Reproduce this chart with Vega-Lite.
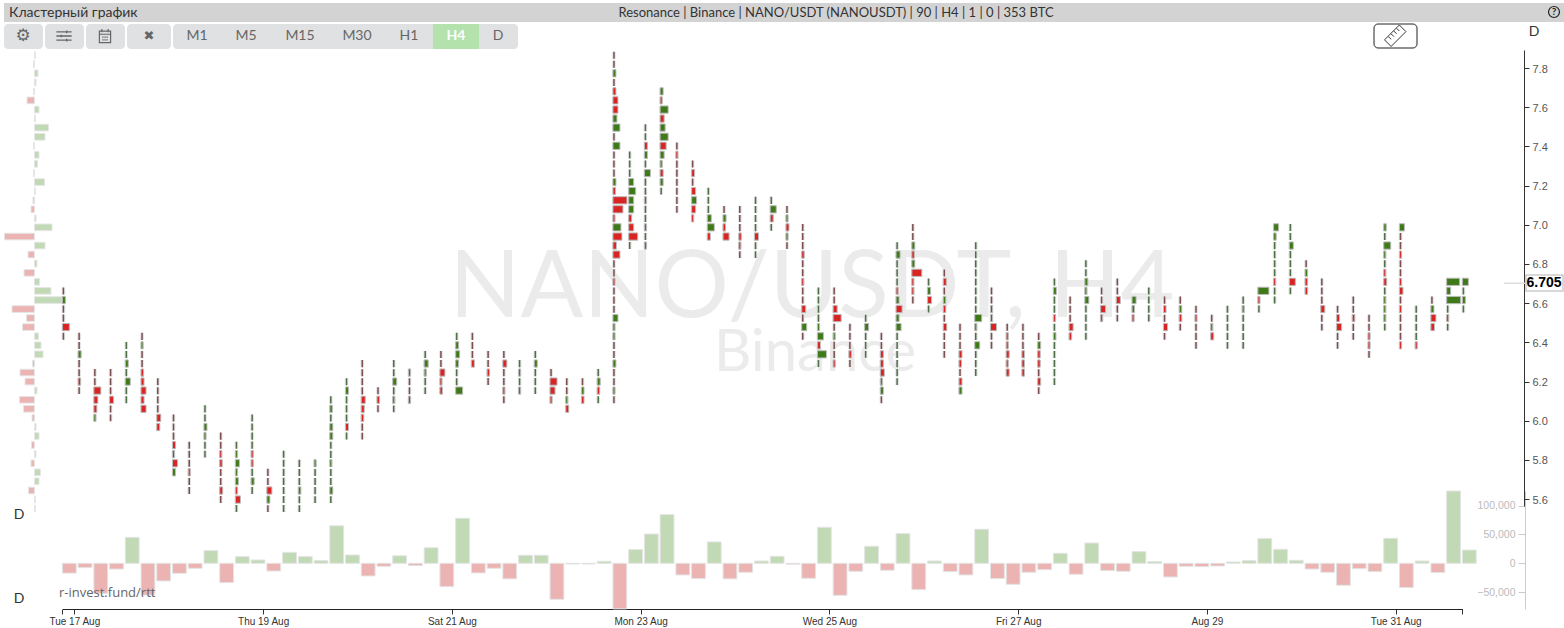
{"$schema":"https://vega.github.io/schema/vega-lite/v6.json","width":1564,"height":609,"padding":{"left":0,"top":0,"right":0,"bottom":19},"autosize":{"type":"none"},"background":"white","config":{"view":{"stroke":null}},"resolve":{"scale":{"x":"independent","y":"independent"}},"data":{"values":[{"ui":1}]},
"datasets":{
"candles":[{"i":0,"hi":6.663,"lo":6.431,"delta":-17000},{"i":1,"hi":6.431,"lo":6.154,"delta":-7500},{"i":2,"hi":6.246,"lo":6.015,"delta":-52000},{"i":3,"hi":6.246,"lo":6.015,"delta":-10000},{"i":4,"hi":6.385,"lo":6.107,"delta":45000},{"i":5,"hi":6.431,"lo":6.061,"delta":-55000},{"i":6,"hi":6.2,"lo":5.968,"delta":-30600},{"i":7,"hi":6.015,"lo":5.737,"delta":-17300},{"i":8,"hi":5.876,"lo":5.644,"delta":-8700},{"i":9,"hi":6.061,"lo":5.83,"delta":22000},{"i":10,"hi":5.922,"lo":5.598,"delta":-33500},{"i":11,"hi":5.876,"lo":5.552,"delta":11500},{"i":12,"hi":6.015,"lo":5.644,"delta":5800},{"i":13,"hi":5.737,"lo":5.552,"delta":-13300},{"i":14,"hi":5.83,"lo":5.552,"delta":19000},{"i":15,"hi":5.783,"lo":5.552,"delta":11500},{"i":16,"hi":5.783,"lo":5.598,"delta":4600},{"i":17,"hi":6.107,"lo":5.598,"delta":65000},{"i":18,"hi":6.2,"lo":5.922,"delta":14400},{"i":19,"hi":6.292,"lo":5.922,"delta":-22000},{"i":20,"hi":6.154,"lo":6.061,"delta":-5200},{"i":21,"hi":6.292,"lo":6.061,"delta":13000},{"i":22,"hi":6.246,"lo":6.107,"delta":-4000},{"i":23,"hi":6.339,"lo":6.154,"delta":27000},{"i":24,"hi":6.339,"lo":6.154,"delta":-40500},{"i":25,"hi":6.431,"lo":6.154,"delta":78000},{"i":26,"hi":6.431,"lo":6.292,"delta":-16700},{"i":27,"hi":6.339,"lo":6.2,"delta":-8700},{"i":28,"hi":6.339,"lo":6.107,"delta":-27000},{"i":29,"hi":6.292,"lo":6.154,"delta":13900},{"i":30,"hi":6.339,"lo":6.154,"delta":13900},{"i":31,"hi":6.246,"lo":6.107,"delta":-62400},{"i":32,"hi":6.2,"lo":6.061,"delta":-1200},{"i":33,"hi":6.2,"lo":6.107,"delta":-1200},{"i":34,"hi":6.246,"lo":6.107,"delta":3500},{"i":35,"hi":7.866,"lo":6.107,"delta":-79000},{"i":36,"hi":7.357,"lo":6.894,"delta":23700},{"i":37,"hi":7.496,"lo":6.894,"delta":50800},{"i":38,"hi":7.681,"lo":7.172,"delta":84300},{"i":39,"hi":7.403,"lo":7.079,"delta":-20200},{"i":40,"hi":7.311,"lo":7.033,"delta":-26500},{"i":41,"hi":7.172,"lo":6.94,"delta":37000},{"i":42,"hi":7.079,"lo":6.94,"delta":-27000},{"i":43,"hi":7.079,"lo":6.848,"delta":-15600},{"i":44,"hi":7.125,"lo":6.848,"delta":4000},{"i":45,"hi":7.125,"lo":6.987,"delta":12100},{"i":46,"hi":7.079,"lo":6.894,"delta":-1700},{"i":47,"hi":6.987,"lo":6.431,"delta":-26000},{"i":48,"hi":6.663,"lo":6.292,"delta":62400},{"i":49,"hi":6.663,"lo":6.292,"delta":-55500},{"i":50,"hi":6.478,"lo":6.292,"delta":-13900},{"i":51,"hi":6.524,"lo":6.339,"delta":29500},{"i":52,"hi":6.431,"lo":6.107,"delta":-12100},{"i":53,"hi":6.894,"lo":6.2,"delta":51400},{"i":54,"hi":6.987,"lo":6.616,"delta":-45600},{"i":55,"hi":6.709,"lo":6.57,"delta":4000},{"i":56,"hi":6.755,"lo":6.339,"delta":-14400},{"i":57,"hi":6.478,"lo":6.154,"delta":-20200},{"i":58,"hi":6.894,"lo":6.246,"delta":59000},{"i":59,"hi":6.663,"lo":6.385,"delta":-26500},{"i":60,"hi":6.478,"lo":6.246,"delta":-36400},{"i":61,"hi":6.478,"lo":6.246,"delta":-15600},{"i":62,"hi":6.431,"lo":6.154,"delta":-11000},{"i":63,"hi":6.709,"lo":6.2,"delta":17300},{"i":64,"hi":6.616,"lo":6.431,"delta":-19000},{"i":65,"hi":6.802,"lo":6.431,"delta":35200},{"i":66,"hi":6.663,"lo":6.524,"delta":-12700},{"i":67,"hi":6.709,"lo":6.524,"delta":-13900},{"i":68,"hi":6.616,"lo":6.524,"delta":20200},{"i":69,"hi":6.663,"lo":6.524,"delta":2900},{"i":70,"hi":6.616,"lo":6.431,"delta":-23700},{"i":71,"hi":6.616,"lo":6.478,"delta":-5200},{"i":72,"hi":6.57,"lo":6.385,"delta":-5800},{"i":73,"hi":6.524,"lo":6.431,"delta":-4600},{"i":74,"hi":6.57,"lo":6.385,"delta":2300},{"i":75,"hi":6.616,"lo":6.385,"delta":4600},{"i":76,"hi":6.663,"lo":6.57,"delta":42800},{"i":77,"hi":6.987,"lo":6.616,"delta":24300},{"i":78,"hi":6.987,"lo":6.663,"delta":5200},{"i":79,"hi":6.802,"lo":6.663,"delta":-10000},{"i":80,"hi":6.709,"lo":6.478,"delta":-15600},{"i":81,"hi":6.57,"lo":6.385,"delta":-38100},{"i":82,"hi":6.616,"lo":6.431,"delta":-9300},{"i":83,"hi":6.524,"lo":6.339,"delta":-14400},{"i":84,"hi":6.987,"lo":6.478,"delta":43300},{"i":85,"hi":6.987,"lo":6.385,"delta":-42100},{"i":86,"hi":6.57,"lo":6.385,"delta":4000},{"i":87,"hi":6.616,"lo":6.478,"delta":-16100},{"i":88,"hi":6.709,"lo":6.478,"delta":125300},{"i":89,"hi":6.709,"lo":6.57,"delta":23000}],
"cells":[{"i":0,"p":6.616,"v":3},{"i":0,"p":6.478,"v":-7},{"i":1,"p":6.339,"v":3},{"i":1,"p":6.2,"v":-2.5},{"i":2,"p":6.154,"v":-7},{"i":2,"p":6.107,"v":-4},{"i":2,"p":6.061,"v":-3},{"i":2,"p":6.015,"v":2},{"i":3,"p":6.107,"v":-4},{"i":4,"p":6.292,"v":3},{"i":4,"p":6.2,"v":5},{"i":5,"p":6.385,"v":2},{"i":5,"p":6.246,"v":-2.5},{"i":5,"p":6.2,"v":-3},{"i":5,"p":6.154,"v":-5},{"i":5,"p":6.107,"v":-3},{"i":5,"p":6.061,"v":-5},{"i":6,"p":6.015,"v":-4},{"i":6,"p":5.968,"v":-3},{"i":7,"p":5.876,"v":-3},{"i":7,"p":5.83,"v":2},{"i":7,"p":5.783,"v":-5},{"i":7,"p":5.737,"v":3},{"i":8,"p":5.737,"v":-2},{"i":9,"p":5.968,"v":3},{"i":9,"p":5.922,"v":2},{"i":10,"p":5.83,"v":-2},{"i":10,"p":5.783,"v":-2.5},{"i":10,"p":5.644,"v":-3},{"i":11,"p":5.83,"v":2},{"i":11,"p":5.783,"v":4},{"i":11,"p":5.737,"v":2},{"i":11,"p":5.691,"v":3},{"i":11,"p":5.644,"v":-2},{"i":11,"p":5.598,"v":-5},{"i":12,"p":5.83,"v":-2},{"i":12,"p":5.783,"v":-2},{"i":12,"p":5.691,"v":3},{"i":13,"p":5.644,"v":-5},{"i":13,"p":5.598,"v":3},{"i":15,"p":5.644,"v":2.5},{"i":16,"p":5.783,"v":2},{"i":17,"p":6.061,"v":2.5},{"i":17,"p":5.968,"v":3},{"i":17,"p":5.922,"v":3},{"i":17,"p":5.783,"v":2},{"i":17,"p":5.644,"v":3},{"i":18,"p":6.154,"v":3},{"i":18,"p":5.968,"v":-3},{"i":19,"p":6.107,"v":-4},{"i":19,"p":6.061,"v":-3},{"i":19,"p":6.015,"v":-2.5},{"i":20,"p":6.107,"v":-2.5},{"i":21,"p":6.2,"v":4},{"i":21,"p":6.107,"v":2},{"i":22,"p":6.246,"v":2},{"i":22,"p":6.107,"v":-2},{"i":23,"p":6.292,"v":4},{"i":23,"p":6.246,"v":2},{"i":24,"p":6.246,"v":-5},{"i":24,"p":6.2,"v":-2},{"i":24,"p":6.154,"v":-2.5},{"i":25,"p":6.385,"v":3},{"i":25,"p":6.339,"v":4},{"i":25,"p":6.292,"v":3},{"i":25,"p":6.154,"v":7},{"i":26,"p":6.292,"v":-3},{"i":27,"p":6.246,"v":-2.5},{"i":28,"p":6.292,"v":-4},{"i":28,"p":6.154,"v":-2},{"i":29,"p":6.246,"v":2},{"i":29,"p":6.154,"v":2},{"i":30,"p":6.292,"v":3},{"i":31,"p":6.2,"v":-7},{"i":31,"p":6.154,"v":-5},{"i":31,"p":6.107,"v":-2},{"i":32,"p":6.107,"v":2},{"i":32,"p":6.061,"v":-3},{"i":33,"p":6.154,"v":2.5},{"i":33,"p":6.107,"v":-2.5},{"i":34,"p":6.2,"v":3},{"i":34,"p":6.154,"v":-2.5},
{"i":35,"p":7.773,"v":3},{"i":35,"p":7.681,"v":-3},{"i":35,"p":7.635,"v":-5},{"i":35,"p":7.588,"v":-5},{"i":35,"p":7.542,"v":4},{"i":35,"p":7.496,"v":7},{"i":35,"p":7.403,"v":7},{"i":35,"p":7.218,"v":3},{"i":35,"p":7.172,"v":-2.5},{"i":35,"p":7.125,"v":-14},{"i":35,"p":7.079,"v":-10},{"i":35,"p":7.033,"v":-2},{"i":35,"p":6.987,"v":8},{"i":35,"p":6.94,"v":-9},{"i":35,"p":6.894,"v":-3.5},{"i":35,"p":6.848,"v":-7},{"i":35,"p":6.709,"v":-2},{"i":35,"p":6.524,"v":5},{"i":35,"p":6.478,"v":2},{"i":35,"p":6.431,"v":2},{"i":35,"p":6.292,"v":3},{"i":35,"p":6.154,"v":2},{"i":36,"p":7.218,"v":5},{"i":36,"p":7.172,"v":7},{"i":36,"p":7.125,"v":5},{"i":36,"p":7.079,"v":5},{"i":36,"p":7.033,"v":-3},{"i":36,"p":6.987,"v":-5},{"i":36,"p":6.94,"v":-9},{"i":37,"p":7.403,"v":-3},{"i":37,"p":7.357,"v":3},{"i":37,"p":7.264,"v":6},{"i":37,"p":7.125,"v":2},{"i":37,"p":6.987,"v":2},{"i":37,"p":6.894,"v":2},{"i":38,"p":7.681,"v":3},{"i":38,"p":7.635,"v":-2},{"i":38,"p":7.588,"v":8},{"i":38,"p":7.542,"v":-4},{"i":38,"p":7.496,"v":5},{"i":38,"p":7.449,"v":8},{"i":38,"p":7.403,"v":-6},{"i":38,"p":7.357,"v":4},{"i":38,"p":7.311,"v":2},{"i":38,"p":7.264,"v":-3},{"i":38,"p":7.218,"v":3},{"i":39,"p":7.357,"v":-2},{"i":40,"p":7.264,"v":-3},{"i":40,"p":7.172,"v":-4},{"i":40,"p":7.125,"v":5},{"i":40,"p":7.079,"v":-4},{"i":40,"p":7.033,"v":-2},{"i":41,"p":7.033,"v":4},{"i":41,"p":6.987,"v":7},{"i":41,"p":6.94,"v":-3},{"i":42,"p":7.033,"v":3},{"i":42,"p":6.987,"v":-2.5},{"i":42,"p":6.94,"v":-6},{"i":43,"p":6.94,"v":-2.5},{"i":43,"p":6.894,"v":-2},{"i":44,"p":6.94,"v":-4},{"i":45,"p":7.079,"v":6},{"i":45,"p":7.033,"v":-3},{"i":46,"p":7.033,"v":2},{"i":46,"p":6.987,"v":-3},{"i":46,"p":6.94,"v":2},{"i":47,"p":6.848,"v":-2.5},{"i":47,"p":6.709,"v":-2},{"i":47,"p":6.57,"v":-4},{"i":47,"p":6.478,"v":5},{"i":48,"p":6.478,"v":2},{"i":48,"p":6.431,"v":6},{"i":48,"p":6.385,"v":-3},{"i":48,"p":6.339,"v":9},{"i":49,"p":6.57,"v":-4},{"i":49,"p":6.524,"v":-8},{"i":49,"p":6.431,"v":2},{"i":49,"p":6.292,"v":-2},{"i":50,"p":6.339,"v":-2.5},{"i":51,"p":6.478,"v":4},{"i":52,"p":6.339,"v":-3},{"i":52,"p":6.292,"v":-3},{"i":52,"p":6.246,"v":-4},{"i":52,"p":6.2,"v":2},{"i":52,"p":6.154,"v":3},{"i":53,"p":6.848,"v":4},{"i":53,"p":6.663,"v":-2},{"i":53,"p":6.616,"v":3},{"i":53,"p":6.57,"v":-6},{"i":53,"p":6.524,"v":3},{"i":53,"p":6.478,"v":5},{"i":54,"p":6.894,"v":3},{"i":54,"p":6.848,"v":-2.5},{"i":54,"p":6.802,"v":3},{"i":54,"p":6.755,"v":-10},{"i":54,"p":6.709,"v":-2},{"i":54,"p":6.663,"v":-2},{"i":55,"p":6.663,"v":3},{"i":55,"p":6.616,"v":-4},{"i":56,"p":6.709,"v":-3},{"i":56,"p":6.616,"v":2.5},{"i":56,"p":6.57,"v":-2.5},{"i":56,"p":6.478,"v":-3.5},{"i":57,"p":6.339,"v":-3},{"i":57,"p":6.292,"v":-2.5},{"i":57,"p":6.2,"v":-3},{"i":57,"p":6.154,"v":3},{"i":58,"p":6.524,"v":7},{"i":58,"p":6.478,"v":2},{"i":58,"p":6.385,"v":5},{"i":59,"p":6.57,"v":-2},{"i":59,"p":6.524,"v":2},{"i":59,"p":6.478,"v":-6},{"i":60,"p":6.431,"v":-2},{"i":60,"p":6.385,"v":-2},{"i":60,"p":6.339,"v":-3},{"i":60,"p":6.292,"v":-2},{"i":60,"p":6.246,"v":-3},{"i":61,"p":6.339,"v":-2.5},{"i":61,"p":6.292,"v":-2.5},{"i":61,"p":6.246,"v":-2.5},{"i":62,"p":6.385,"v":3},{"i":62,"p":6.339,"v":-2.5},{"i":62,"p":6.292,"v":-2.5},{"i":62,"p":6.2,"v":-3},{"i":63,"p":6.663,"v":3},{"i":63,"p":6.524,"v":-2},{"i":63,"p":6.431,"v":2.5},{"i":64,"p":6.478,"v":-4},{"i":64,"p":6.431,"v":-2.5},{"i":65,"p":6.709,"v":3},{"i":65,"p":6.663,"v":2},{"i":65,"p":6.616,"v":4},{"i":66,"p":6.57,"v":-5},{"i":66,"p":6.524,"v":-2},{"i":67,"p":6.616,"v":-4},{"i":68,"p":6.616,"v":4},{"i":68,"p":6.57,"v":2.5},{"i":68,"p":6.524,"v":-2},{"i":70,"p":6.57,"v":-2.5},{"i":70,"p":6.478,"v":-4},{"i":71,"p":6.57,"v":2.5},{"i":71,"p":6.524,"v":-2.5},{"i":72,"p":6.524,"v":-2},{"i":73,"p":6.478,"v":2},{"i":73,"p":6.431,"v":-3},{"i":75,"p":6.57,"v":2},{"i":76,"p":6.663,"v":11},{"i":76,"p":6.616,"v":-2},{"i":77,"p":6.987,"v":5},{"i":77,"p":6.94,"v":2.5},{"i":77,"p":6.709,"v":-2},{"i":78,"p":6.894,"v":4},{"i":78,"p":6.709,"v":-6},{"i":79,"p":6.755,"v":2.5},{"i":79,"p":6.709,"v":-2.5},{"i":79,"p":6.663,"v":-2.5},{"i":80,"p":6.57,"v":-4},{"i":81,"p":6.524,"v":-3},{"i":81,"p":6.478,"v":-5},{"i":82,"p":6.524,"v":-2.5},{"i":83,"p":6.431,"v":-2},{"i":83,"p":6.385,"v":-2},{"i":84,"p":6.987,"v":2.5},{"i":84,"p":6.894,"v":7},{"i":84,"p":6.848,"v":2},{"i":84,"p":6.755,"v":-2},{"i":84,"p":6.709,"v":-3},{"i":84,"p":6.616,"v":2},{"i":84,"p":6.57,"v":2},{"i":84,"p":6.524,"v":2},{"i":85,"p":6.987,"v":5},{"i":85,"p":6.848,"v":-2},{"i":85,"p":6.709,"v":-2},{"i":85,"p":6.663,"v":-3.5},{"i":85,"p":6.57,"v":-2},{"i":85,"p":6.385,"v":-2},{"i":86,"p":6.385,"v":-2},{"i":87,"p":6.57,"v":3},{"i":87,"p":6.524,"v":-5},{"i":87,"p":6.478,"v":-3.5},{"i":88,"p":6.709,"v":13},{"i":88,"p":6.663,"v":4},{"i":88,"p":6.616,"v":14},{"i":88,"p":6.524,"v":-2},{"i":89,"p":6.709,"v":6},{"i":89,"p":6.616,"v":3}],
"profile":[{"p":7.866,"v":1},{"p":7.82,"v":-1},{"p":7.773,"v":3.5},{"p":7.727,"v":1.5},{"p":7.681,"v":-1},{"p":7.635,"v":-7.5},{"p":7.588,"v":4.5},{"p":7.542,"v":1},{"p":7.496,"v":14},{"p":7.449,"v":10.5},{"p":7.403,"v":-1},{"p":7.357,"v":4.5},{"p":7.311,"v":3},{"p":7.264,"v":-1},{"p":7.218,"v":10},{"p":7.172,"v":1},{"p":7.125,"v":-1.5},{"p":7.079,"v":-3.5},{"p":7.033,"v":1.5},{"p":6.987,"v":17.5},{"p":6.94,"v":-30},{"p":6.894,"v":10.5},{"p":6.848,"v":-6.5},{"p":6.802,"v":2.5},{"p":6.755,"v":-10.5},{"p":6.709,"v":5},{"p":6.663,"v":16.5},{"p":6.616,"v":28},{"p":6.57,"v":-22.5},{"p":6.524,"v":-8},{"p":6.478,"v":-12},{"p":6.431,"v":4},{"p":6.385,"v":6.5},{"p":6.339,"v":8.5},{"p":6.292,"v":-2},{"p":6.246,"v":-14.5},{"p":6.2,"v":-9.5},{"p":6.154,"v":2.5},{"p":6.107,"v":-15},{"p":6.061,"v":-11},{"p":6.015,"v":-2.5},{"p":5.968,"v":1.5},{"p":5.922,"v":4.5},{"p":5.876,"v":-3},{"p":5.83,"v":1.5},{"p":5.783,"v":-3.5},{"p":5.737,"v":6},{"p":5.691,"v":4.5},{"p":5.644,"v":-6},{"p":5.598,"v":1},{"p":5.552,"v":1}]
},
"layer":[
{"mark":{"type":"text","x":812,"y":289,"text":"NANO/USDT, H4","font":"Lato","fontSize":93,"fontWeight":400,"color":"#ebebeb","align":"center","baseline":"middle"}},
{"mark":{"type":"text","x":815,"y":354,"text":"Binance","font":"Lato","fontSize":58,"fontWeight":400,"color":"#ebebeb","align":"center","baseline":"middle"}},
{"data":{"name":"candles"},"transform":[{"calculate":"datum.i+13.8/15.73","as":"end"}],"mark":{"type":"rect","stroke":"#e4e4e4","strokeWidth":1},
 "encoding":{"x":{"field":"i","type":"quantitative","axis":{"values":[0,0.76,12.76,24.76,36.76,48.76,60.76,72.76,84.76,89],"title":null,"grid":false,"domainColor":"#222","tickColor":"#333","tickSize":5,"labelColor":"#333","labelFont":"Liberation Sans","labelFontSize":10,"labelPadding":2,"labelOverlap":false,"labelFlush":false,"labelExpr":"{'0.76':'Tue 17 Aug','12.76':'Thu 19 Aug','24.76':'Sat 21 Aug','36.76':'Mon 23 Aug','48.76':'Wed 25 Aug','60.76':'Fri 27 Aug','72.76':'Aug 29','84.76':'Tue 31 Aug'}[''+datum.value]||''"},"scale":{"domain":[0,89],"range":[62.4,1462.4]}},"x2":{"field":"end"},
 "y":{"field":"delta","type":"quantitative","scale":{"domain":[-79200,125300],"range":[609,491]},"axis":{"orient":"left","offset":-1525,"values":[-50000,0,50000,100000],"title":null,"grid":false,"labelExpr":"format(datum.value,',')","domainColor":"#ccc","tickColor":"#ccc","tickSize":7,"labelColor":"#bbbbbb","labelFont":"Liberation Sans","labelFontSize":10.5,"labelPadding":3}},"y2":{"datum":0},
 "fill":{"condition":{"test":"datum.delta<0","value":"#ecb3b3"},"value":"#c1dab5"}}},
{"data":{"name":"profile"},"transform":[{"calculate":"datum.p+0.017","as":"t"},{"calculate":"datum.p-0.017","as":"b"}],"mark":{"type":"rect","stroke":"#e6e6e6","strokeWidth":1},
 "encoding":{"x":{"field":"v","type":"quantitative","axis":null,"scale":{"domain":[0,100],"range":[34.5,134.5]}},"x2":{"datum":0},
 "y":{"field":"t","type":"quantitative","axis":null,"scale":{"domain":[5.565,7.892],"range":[506,50]}},"y2":{"field":"b"},
 "fill":{"condition":{"test":"datum.v<0","value":"#ecb3b3"},"value":"#c1dab5"}}},
{"data":{"name":"candles"},"transform":[{"calculate":"datum.hi+0.0175","as":"top"},{"calculate":"datum.lo-0.0175","as":"bot"}],"mark":{"type":"rule","strokeWidth":3.6,"strokeDash":[7.1,1.97],"xOffset":1,"color":"#e2e2e2"},
 "encoding":{"x":{"field":"i","type":"quantitative","axis":null,"scale":{"domain":[0,89],"range":[62.4,1462.4]}},
 "y":{"field":"top","type":"quantitative","axis":null,"scale":{"domain":[5.565,7.892],"range":[506,50]}},"y2":{"field":"bot"}}},
{"data":{"name":"candles"},"transform":[{"calculate":"datum.hi+0.0175","as":"top"},{"calculate":"datum.lo-0.0175","as":"bot"}],"mark":{"type":"rule","strokeWidth":1.5,"strokeDash":[7.1,1.97],"xOffset":1},
 "encoding":{"x":{"field":"i","type":"quantitative","axis":null,"scale":{"domain":[0,89],"range":[62.4,1462.4]}},
 "y":{"field":"top","type":"quantitative","scale":{"domain":[5.565,7.892],"range":[506,50]},"axis":{"orient":"right","offset":-40,"values":[5.6,5.8,6.0,6.2,6.4,6.6,6.8,7.0,7.2,7.4,7.6,7.8],"format":".1f","title":null,"grid":false,"domainColor":"#333","tickColor":"#333","tickSize":5,"labelColor":"#555","labelFont":"Liberation Sans","labelFontSize":11,"labelPadding":3,"labelOffset":1}},"y2":{"field":"bot"},
 "color":{"condition":{"test":"datum.delta<0","value":"#7d4f52"},"value":"#50704a"}}},
{"data":{"name":"cells"},"transform":[{"calculate":"datum.i+abs(datum.v)/15.73","as":"e"},{"calculate":"datum.p+0.0185","as":"t"},{"calculate":"datum.p-0.0185","as":"b"}],"mark":{"type":"rect","stroke":"#bdbdbd","strokeWidth":1},
 "encoding":{"x":{"field":"i","type":"quantitative","axis":null,"scale":{"domain":[0,89],"range":[62.4,1462.4]}},"x2":{"field":"e"},
 "y":{"field":"t","type":"quantitative","axis":null,"scale":{"domain":[5.565,7.892],"range":[506,50]}},"y2":{"field":"b"},
 "fill":{"condition":{"test":"datum.v<0","value":"#d92424"},"value":"#3f7a18"}}},
{"mark":{"type":"rect","x":1504,"x2":1526,"y":282.5,"y2":284,"fill":"#dddddd"},"encoding":{}},
{"mark":{"type":"rect","x":1526,"x2":1563,"y":275,"y2":291,"fill":"white","stroke":"#cccccc","strokeWidth":1.5},"encoding":{}},
{"mark":{"type":"text","x":1544,"y":283,"text":"6.705","font":"Liberation Sans","fontSize":14,"fontWeight":"bold","color":"#000","align":"center","baseline":"middle"}},
{"mark":{"type":"text","x":59,"y":593,"text":"r-invest.fund/rtt","font":"Open Sans","fontSize":13,"fontWeight":500,"color":"#666","align":"left","baseline":"middle"}},
{"mark":{"type":"text","x":19,"y":515,"text":"D","font":"Lato","fontSize":14,"color":"#333","align":"center","baseline":"middle"}},
{"mark":{"type":"text","x":19,"y":599,"text":"D","font":"Lato","fontSize":14,"color":"#333","align":"center","baseline":"middle"}},
{"mark":{"type":"text","x":1534,"y":32,"text":"D","font":"Lato","fontSize":14,"color":"#333","align":"center","baseline":"middle"}},
{"mark":{"type":"rect","x":4,"x2":1564,"y":3,"y2":22,"fill":"#d3d3d3"},"encoding":{}},
{"mark":{"type":"text","x":9,"y":13,"text":"Кластерный график","font":"Lato","fontSize":14,"color":"#333","align":"left","baseline":"middle"}},
{"mark":{"type":"text","x":836,"y":13,"text":"Resonance | Binance | NANO/USDT (NANOUSDT) | 90 | H4 | 1 | 0 | 353 BTC","font":"Lato","fontSize":13,"color":"#333","align":"center","baseline":"middle"}},
{"mark":{"type":"text","x":1554,"y":12,"text":"?","font":"Lato","fontSize":10,"fontWeight":"bold","color":"#222","align":"center","baseline":"middle"}},
{"mark":{"type":"point","x":1554,"y":12,"size":120,"shape":"circle","filled":false,"stroke":"#222","strokeWidth":1.2,"opacity":1}},
{"mark":{"type":"rect","x":4,"x2":43,"y":24,"y2":49,"fill":"#e0e1e3","cornerRadius":4},"encoding":{}},
{"mark":{"type":"rect","x":45,"x2":84,"y":24,"y2":49,"fill":"#e0e1e3","cornerRadius":4},"encoding":{}},
{"mark":{"type":"rect","x":86,"x2":125,"y":24,"y2":49,"fill":"#e0e1e3","cornerRadius":4},"encoding":{}},
{"mark":{"type":"rect","x":127,"x2":171,"y":24,"y2":49,"fill":"#e0e1e3","cornerRadius":4},"encoding":{}},
{"mark":{"type":"rect","x":173,"x2":518,"y":24,"y2":49,"fill":"#e0e1e3","cornerRadius":4},"encoding":{}},
{"mark":{"type":"rect","x":433,"x2":479,"y":24,"y2":49,"fill":"#b3e2ac"},"encoding":{}},
{"mark":{"type":"text","x":23,"y":36,"text":"⚙","font":"DejaVu Sans","fontSize":17,"color":"#666","align":"center","baseline":"middle"}},
{"mark":{"type":"point","x":64,"y":36,"size":324,"shape":"M-.85 -.45H.85M-.85 0H.85M-.85 .45H.85M.3 -.6V-.3M-.3 -.15V.15M.3 .3V.6","filled":false,"stroke":"#666","strokeWidth":1.3,"opacity":1}},
{"mark":{"type":"point","x":105,"y":36,"size":196,"shape":"M-.8 -.7H.8V.95H-.8ZM-.8 -.25H.8M-.45 -1V-.55M.45 -1V-.55M-.4 .15H-.2M-.1 .15H.1M.2 .15H.4M-.4 .55H-.2M-.1 .55H.1M.2 .55H.4","filled":false,"stroke":"#666","strokeWidth":1.2,"opacity":1}},
{"mark":{"type":"text","x":149,"y":36,"text":"✖","font":"DejaVu Sans","fontSize":13,"color":"#666","align":"center","baseline":"middle"}},
{"mark":{"type":"text","x":197,"y":36,"text":"M1","font":"Lato","fontSize":14,"color":"#666","align":"center","baseline":"middle"}},
{"mark":{"type":"text","x":246,"y":36,"text":"M5","font":"Lato","fontSize":14,"color":"#666","align":"center","baseline":"middle"}},
{"mark":{"type":"text","x":300,"y":36,"text":"M15","font":"Lato","fontSize":14,"color":"#666","align":"center","baseline":"middle"}},
{"mark":{"type":"text","x":357,"y":36,"text":"M30","font":"Lato","fontSize":14,"color":"#666","align":"center","baseline":"middle"}},
{"mark":{"type":"text","x":409,"y":36,"text":"H1","font":"Lato","fontSize":14,"color":"#666","align":"center","baseline":"middle"}},
{"mark":{"type":"text","x":456,"y":36,"text":"H4","font":"Lato","fontSize":14,"fontWeight":"bold","color":"#ffffff","align":"center","baseline":"middle"}},
{"mark":{"type":"text","x":498,"y":36,"text":"D","font":"Lato","fontSize":14,"color":"#666","align":"center","baseline":"middle"}},
{"mark":{"type":"rect","x":1374,"x2":1417,"y":24,"y2":48,"fill":"white","stroke":"#222","strokeWidth":1,"cornerRadius":4},"encoding":{}},
{"mark":{"type":"point","x":1395.5,"y":36,"size":484,"shape":"M-1 .35L.35 -1L.95 -.4L-.4 .95ZM-.65 .05L-.4 .3M-.4 -.2L-.15 .05M-.15 -.45L.1 -.2M.1 -.7L.35 -.45","filled":false,"stroke":"#333","strokeWidth":1,"opacity":1}}
]}
